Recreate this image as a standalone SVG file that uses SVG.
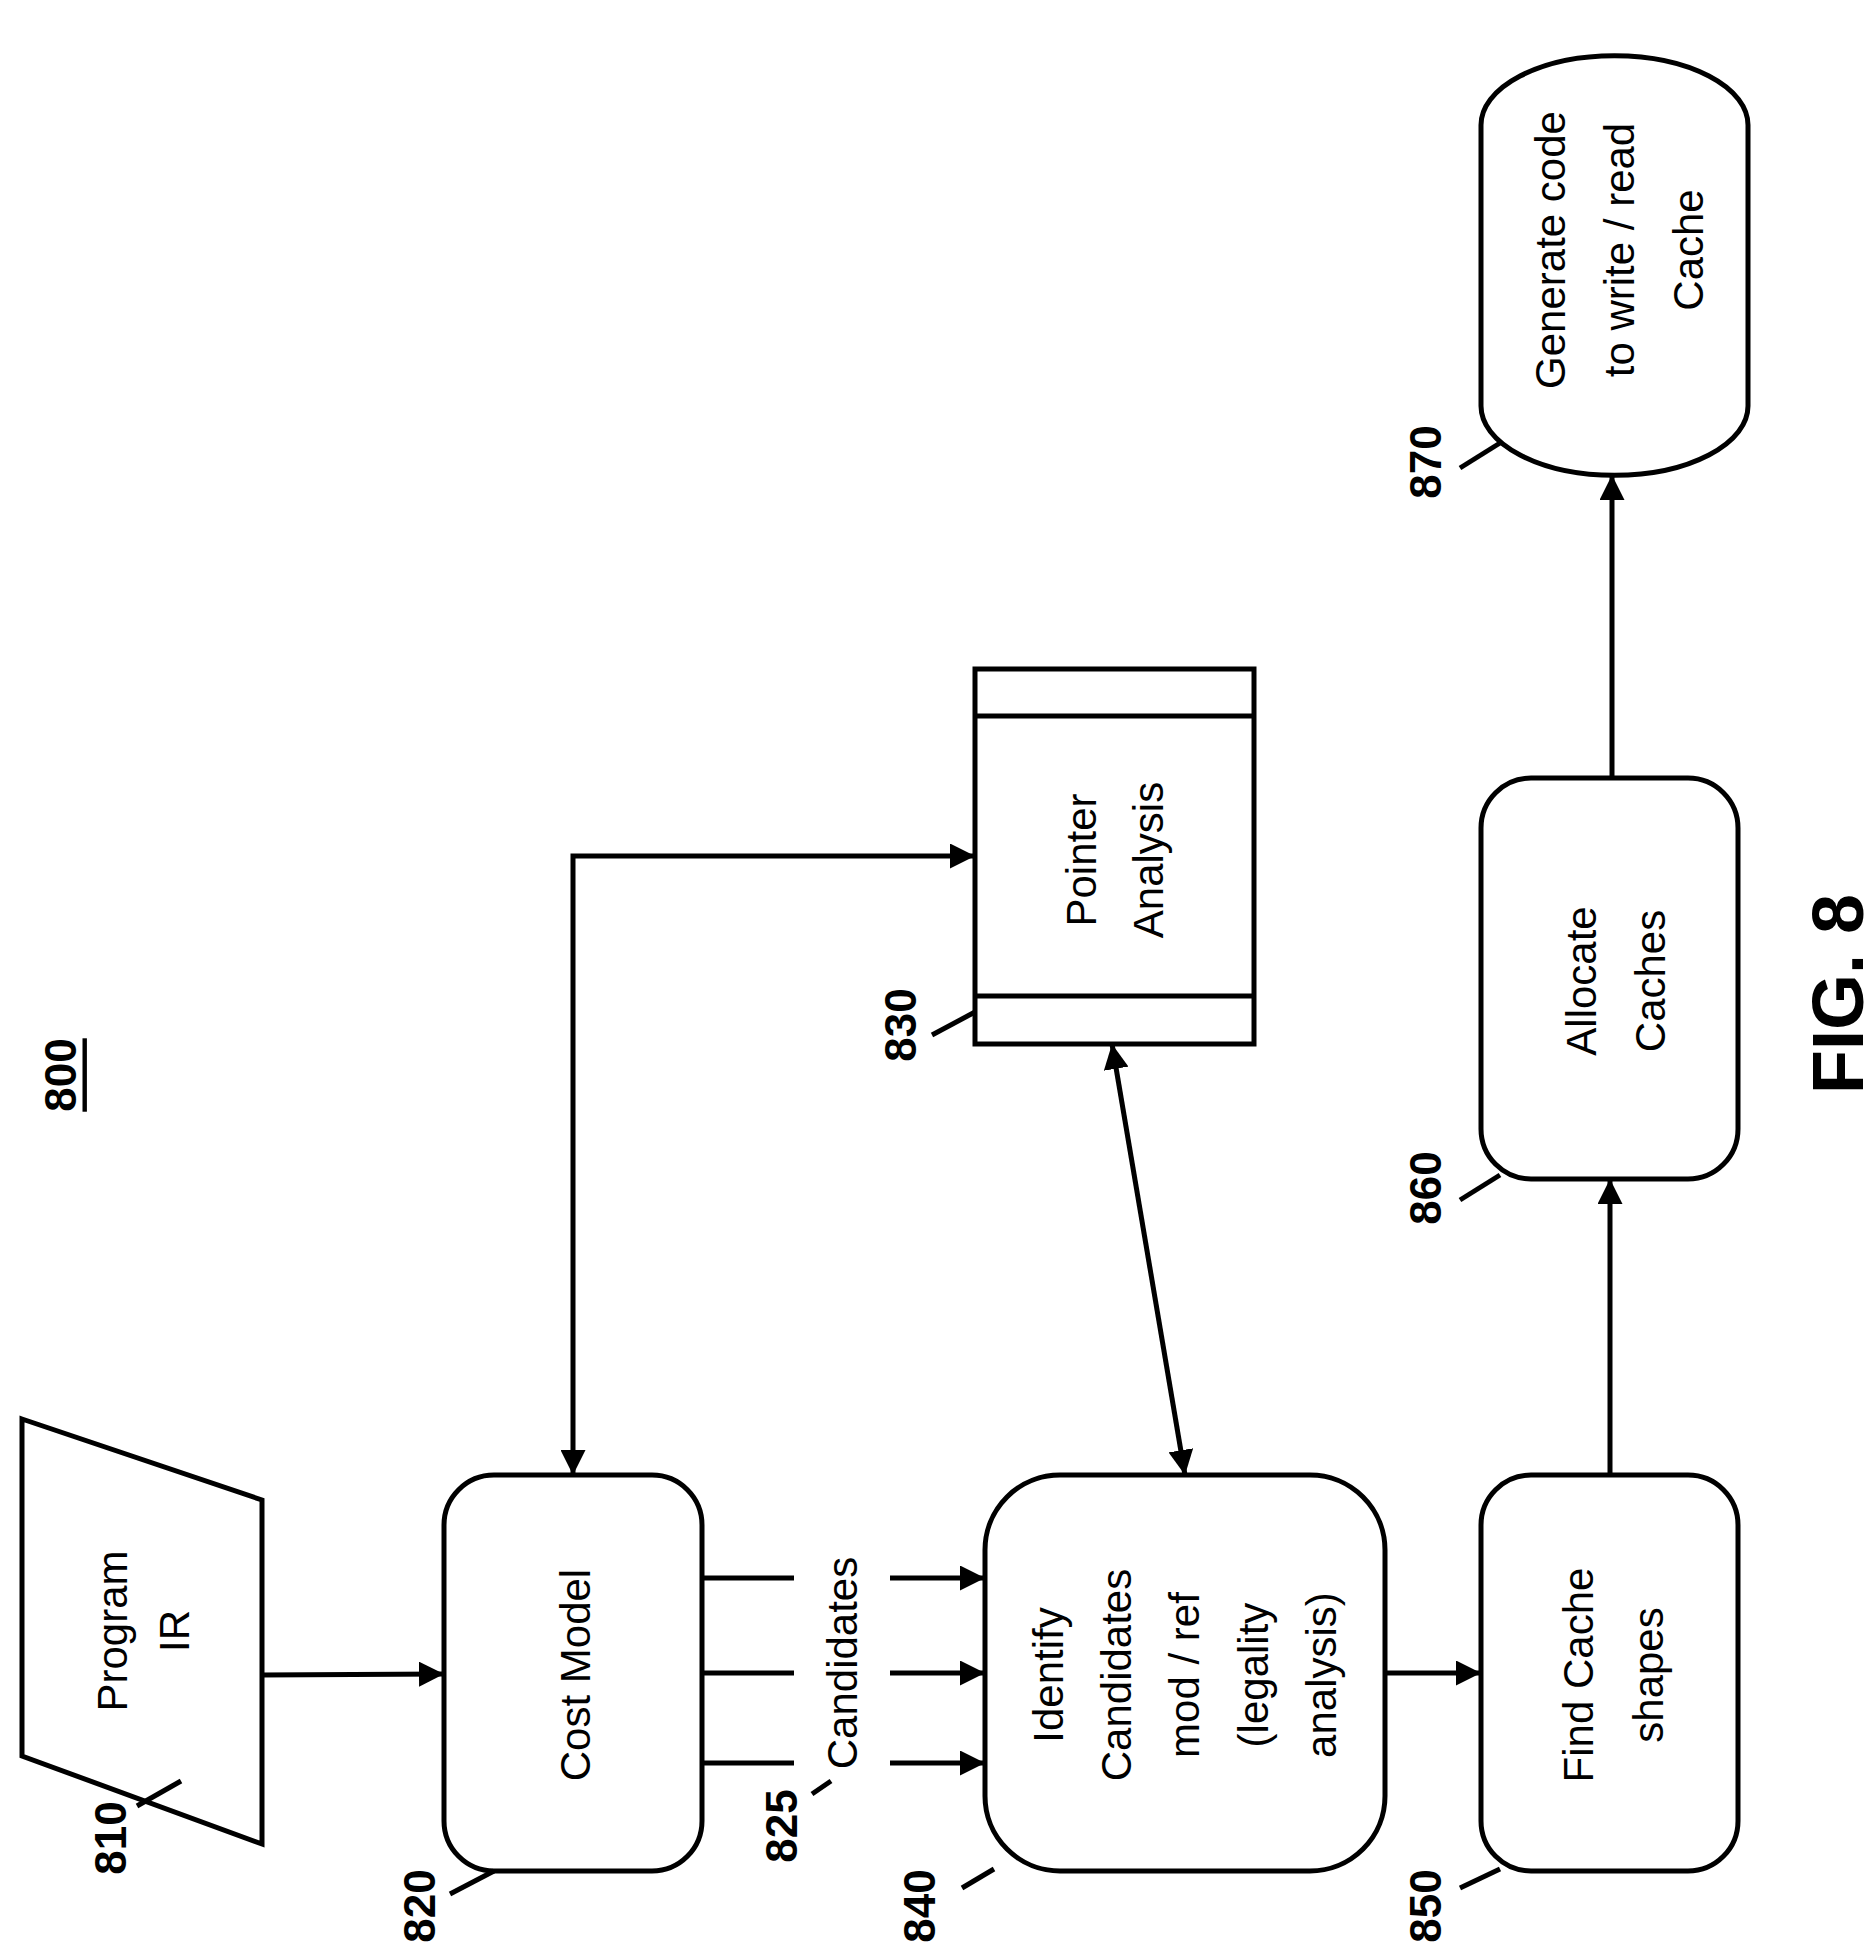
<svg xmlns="http://www.w3.org/2000/svg" width="1875" height="1948" viewBox="0 0 1875 1948">
<style>
.b{fill:#fff;stroke:#000;stroke-width:5}
.c{fill:none;stroke:#000;stroke-width:5}
.t{font-family:"Liberation Sans",Arial,sans-serif;font-size:42px;text-anchor:middle;dominant-baseline:central}
.l{font-family:"Liberation Sans",Arial,sans-serif;font-size:44px;font-weight:bold;text-anchor:middle;dominant-baseline:central}
</style>
<defs>
<marker id="a" viewBox="0 0 10 10" refX="10" refY="5" markerWidth="5" markerHeight="5" orient="auto-start-reverse"><path d="M0,0 L10,5 L0,10 Z" fill="#000"/></marker>
</defs>
<g id="title"><text class="l" transform="rotate(-90 60 1075)" x="60" y="1075" text-decoration="underline">800</text></g>
<g id="n810">
<polygon class="b" points="22,1419 262,1500 262,1844 22,1756"/>
<text class="t" transform="rotate(-90 112 1631)" x="112" y="1631">Program</text>
<text class="t" transform="rotate(-90 174 1631)" x="174" y="1631">IR</text>
<text class="l" transform="rotate(-90 110 1838)" x="110" y="1838">810</text>
<line class="c" x1="137" y1="1806" x2="181" y2="1781"/>
</g>
<g id="n820">
<rect class="b" x="444" y="1475" width="258" height="396" rx="50"/>
<text class="t" transform="rotate(-90 575 1675)" x="575" y="1675">Cost Model</text>
<text class="l" transform="rotate(-90 419 1906)" x="419" y="1906">820</text>
<line class="c" x1="450" y1="1894" x2="494" y2="1871"/>
</g>
<g id="n825">
<text class="t" transform="rotate(-90 842 1663)" x="842" y="1663">Candidates</text>
<text class="l" transform="rotate(-90 781 1826)" x="781" y="1826">825</text>
<line class="c" x1="812" y1="1794" x2="831" y2="1781"/>
</g>
<g id="n830">
<rect class="b" x="975" y="669" width="279" height="375"/>
<line class="c" x1="975" y1="716" x2="1254" y2="716"/>
<line class="c" x1="975" y1="996" x2="1254" y2="996"/>
<text class="t" transform="rotate(-90 1081 860)" x="1081" y="860">Pointer</text>
<text class="t" transform="rotate(-90 1148 860)" x="1148" y="860">Analysis</text>
<text class="l" transform="rotate(-90 900 1025)" x="900" y="1025">830</text>
<line class="c" x1="932" y1="1035" x2="975" y2="1012"/>
</g>
<g id="n840">
<rect class="b" x="985" y="1475" width="400" height="396" rx="75"/>
<text class="t" transform="rotate(-90 1048 1675)" x="1048" y="1675">Identify</text>
<text class="t" transform="rotate(-90 1116 1675)" x="1116" y="1675">Candidates</text>
<text class="t" transform="rotate(-90 1184 1675)" x="1184" y="1675">mod / ref</text>
<text class="t" transform="rotate(-90 1253 1675)" x="1253" y="1675">(legality</text>
<text class="t" transform="rotate(-90 1321 1675)" x="1321" y="1675">analysis)</text>
<text class="l" transform="rotate(-90 919 1906)" x="919" y="1906">840</text>
<line class="c" x1="962" y1="1888" x2="994" y2="1869"/>
</g>
<g id="n850">
<rect class="b" x="1481" y="1475" width="257" height="396" rx="50"/>
<text class="t" transform="rotate(-90 1578 1675)" x="1578" y="1675">Find Cache</text>
<text class="t" transform="rotate(-90 1648 1675)" x="1648" y="1675">shapes</text>
<text class="l" transform="rotate(-90 1425 1906)" x="1425" y="1906">850</text>
<line class="c" x1="1460" y1="1888" x2="1500" y2="1869"/>
</g>
<g id="n860">
<rect class="b" x="1481" y="778" width="257" height="401" rx="50"/>
<text class="t" transform="rotate(-90 1581 981)" x="1581" y="981">Allocate</text>
<text class="t" transform="rotate(-90 1650 981)" x="1650" y="981">Caches</text>
<text class="l" transform="rotate(-90 1425 1188)" x="1425" y="1188">860</text>
<line class="c" x1="1460" y1="1200" x2="1500" y2="1175"/>
</g>
<g id="n870">
<path class="b" d="M1481,125 A133,69 0 0 1 1748,125 V406 A133,69 0 0 1 1481,406 Z"/>
<text class="t" transform="rotate(-90 1550 250)" x="1550" y="250">Generate code</text>
<text class="t" transform="rotate(-90 1619 250)" x="1619" y="250">to write / read</text>
<text class="t" transform="rotate(-90 1688 250)" x="1688" y="250">Cache</text>
<text class="l" transform="rotate(-90 1425 462)" x="1425" y="462">870</text>
<line class="c" x1="1460" y1="468" x2="1500" y2="443"/>
</g>
<g id="fig"><text class="l" style="font-size:72px" transform="rotate(-90 1838 994)" x="1838" y="994">FIG. 8</text></g>
<g id="connectors">
<line class="c" x1="262" y1="1675" x2="444" y2="1674" marker-end="url(#a)"/>
<line class="c" x1="702" y1="1578" x2="794" y2="1578"/>
<line class="c" x1="702" y1="1673" x2="794" y2="1673"/>
<line class="c" x1="702" y1="1763" x2="794" y2="1763"/>
<line class="c" x1="890" y1="1578" x2="985" y2="1578" marker-end="url(#a)"/>
<line class="c" x1="890" y1="1673" x2="985" y2="1673" marker-end="url(#a)"/>
<line class="c" x1="890" y1="1763" x2="985" y2="1763" marker-end="url(#a)"/>
<path class="c" d="M573,1475 V856 H975" marker-start="url(#a)" marker-end="url(#a)"/>
<line class="c" x1="1112" y1="1044" x2="1185" y2="1475" marker-start="url(#a)" marker-end="url(#a)"/>
<line class="c" x1="1385" y1="1673" x2="1481" y2="1673" marker-end="url(#a)"/>
<line class="c" x1="1610" y1="1475" x2="1610" y2="1179" marker-end="url(#a)"/>
<line class="c" x1="1612" y1="778" x2="1612" y2="475" marker-end="url(#a)"/>
</g>
</svg>
